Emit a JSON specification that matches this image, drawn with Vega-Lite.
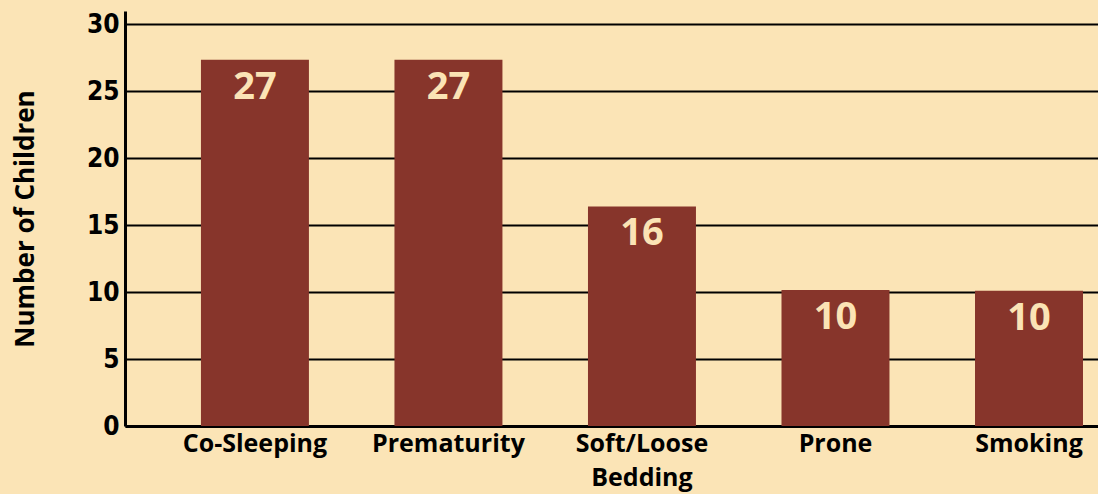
{
  "$schema": "https://vega.github.io/schema/vega-lite/v6.json",
  "width": 973,
  "height": 415,
  "autosize": {"type": "none"},
  "padding": {"left": 125, "top": 11, "right": 0, "bottom": 68},
  "background": "#FBE4B6",
  "config": {
    "view": {"stroke": null},
    "font": "Open Sans"
  },
  "data": {
    "values": [
      {"factor": "Co-Sleeping", "children": 27.35, "label": "27"},
      {"factor": "Prematurity", "children": 27.35, "label": "27"},
      {"factor": "Soft/Loose Bedding", "children": 16.4, "label": "16"},
      {"factor": "Prone", "children": 10.15, "label": "10"},
      {"factor": "Smoking", "children": 10.1, "label": "10"}
    ]
  },
  "encoding": {
    "x": {
      "field": "factor",
      "type": "nominal",
      "sort": null,
      "scale": {"paddingInner": 0.442, "paddingOuter": 0.235, "align": 0.835},
      "axis": {
        "title": null,
        "labelAngle": 0,
        "labelFont": "Open Sans",
        "labelFontWeight": "bold",
        "labelFontSize": 25,
        "labelColor": "#000000",
        "labelPadding": 5,
        "labelLineHeight": 34,
        "labelBaseline": "top",
        "labelExpr": "datum.value == 'Soft/Loose Bedding' ? ['Soft/Loose', 'Bedding'] : datum.value",
        "ticks": false,
        "domainColor": "#000000",
        "domainWidth": 3,
        "grid": false
      }
    },
    "y": {
      "field": "children",
      "type": "quantitative",
      "scale": {"domain": [0, 31], "nice": false},
      "axis": {
        "title": "Number of Children",
        "titleFont": "Open Sans",
        "titleFontWeight": "bold",
        "titleFontSize": 26,
        "titleColor": "#000000",
        "titlePadding": 48,
        "values": [0, 5, 10, 15, 20, 25, 30],
        "labelFont": "DejaVu Sans Condensed, Liberation Sans",
        "labelFontWeight": "bold",
        "labelFontSize": 26,
        "labelColor": "#000000",
        "labelPadding": 6,
        "ticks": false,
        "domainColor": "#000000",
        "domainWidth": 3,
        "grid": true,
        "gridColor": "#000000",
        "gridWidth": 2,
        "gridOpacity": 1
      }
    }
  },
  "layer": [
    {"mark": {"type": "bar", "color": "#87352B"}},
    {
      "mark": {
        "type": "text",
        "baseline": "top",
        "dy": 9,
        "font": "Open Sans",
        "fontWeight": "bold",
        "fontSize": 38,
        "color": "#FBE3B5"
      },
      "encoding": {"text": {"field": "label"}}
    }
  ]
}
